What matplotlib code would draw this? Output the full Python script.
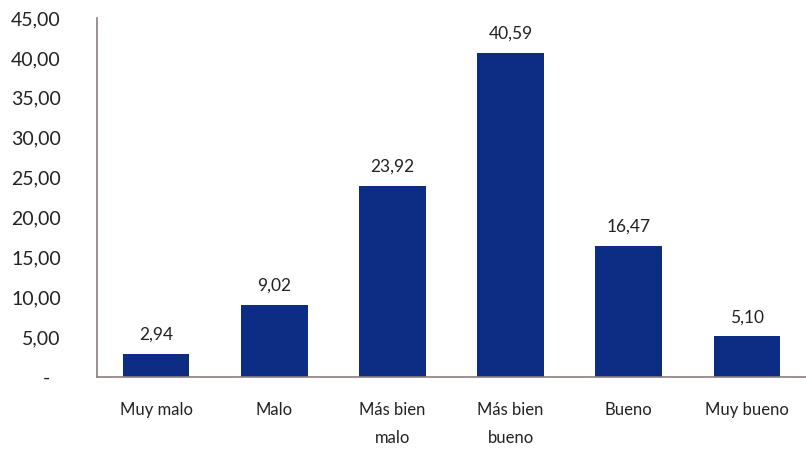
import matplotlib
matplotlib.use('Agg')
import matplotlib.pyplot as plt
import numpy as np

categories = ['Muy malo', 'Malo', 'Más bien\nmalo', 'Más bien\nbueno', 'Bueno', 'Muy bueno']
values = [2.94, 9.02, 23.92, 40.59, 16.47, 5.10]
y_ticks = [0, 5, 10, 15, 20, 25, 30, 35, 40, 45]

plt.rcParams['font.family'] = ['Lato', 'DejaVu Sans']
text_color = '#222222'
bar_color = '#0d2c84'
spine_color = '#8a7e7e'

fig = plt.figure(figsize=(8.06, 4.5), dpi=100)
ax = fig.add_axes([0.1203, 0.1622, 0.8797, 0.7978])

x = np.arange(len(categories))
bars = ax.bar(x, values, width=0.565, color=bar_color)

for xi, v in zip(x, values):
    ax.annotate(f'{v:.2f}'.replace('.', ','), xy=(xi, v), xytext=(0, 8),
                textcoords='offset points', ha='center', va='bottom',
                fontsize=12.5, color=text_color)

ax.set_xlim(-0.5, len(categories) - 0.5)
ax.set_ylim(0, 45)
ax.set_xticks(x)
ax.set_xticklabels(categories, fontsize=12, color=text_color, linespacing=1.9, va='top')
ax.set_yticks(y_ticks)
ylabels = [f'{t:.2f}'.replace('.', ',') if t else '-  ' for t in y_ticks]
ax.set_yticklabels(ylabels, fontsize=14, color=text_color)
ax.tick_params(axis='x', length=0, pad=18)
ax.tick_params(axis='y', length=0, pad=26)

for s in ['top', 'right']:
    ax.spines[s].set_visible(False)
for s in ['left', 'bottom']:
    ax.spines[s].set_color(spine_color)
    ax.spines[s].set_linewidth(1.2)

fig.savefig('out.png', dpi=100)
